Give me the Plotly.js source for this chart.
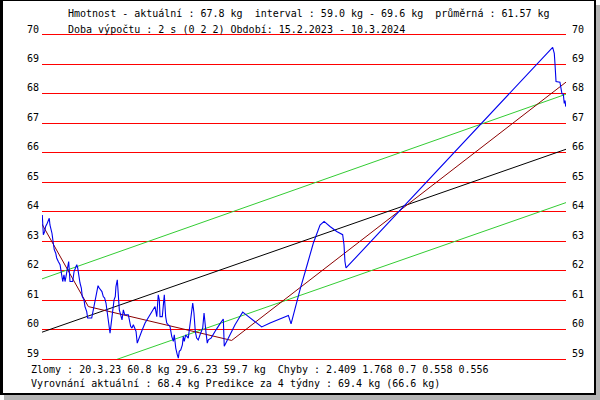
<!DOCTYPE html>
<html>
<head>
<meta charset="utf-8">
<script src="https://cdn.plot.ly/plotly-3.0.1.min.js"></script>
<style>
  html, body { margin: 0; padding: 0; background: #ffffff; width: 600px; height: 400px; overflow: hidden; }
  #frame { position: absolute; left: 0; top: 0; width: 596px; height: 395px; box-sizing: border-box;
           border-left: 3px solid #000; border-top: 1px solid #000; border-right: 2px solid #000; border-bottom: 2px solid #000;
           background: #fff; box-shadow: 4px 5px 0 0 #b4b4b4; }
  #chart { position: absolute; left: 0; top: 0; width: 600px; height: 400px; }
</style>
</head>
<body>
<div id="frame"></div>
<div id="chart"></div>
<script>
const days = [0.2, 1.0, 2.0, 2.7, 3.9, 4.7, 5.4, 5.9, 6.7, 7.4, 8.4, 9.1, 10.2, 10.9, 12.1, 13.4, 14.6, 15.4, 16.3, 17.1,
  17.8, 18.8, 19.8, 20.8, 22.8, 23.8, 24.7, 25.8, 26.5, 27.2, 28.2, 29.2, 29.9, 31.2, 31.9, 33.2, 33.9, 36.9, 37.6, 38.6,
  39.6, 40.6, 41.6, 42.5, 43.6, 44.5, 45.5, 46.5, 47.5, 48.5, 49.5, 50.5, 51.4, 52.2, 53.5, 54.4, 54.9, 55.9, 56.6, 57.4,
  58.4, 59.4, 60.4, 61.4, 64.1, 64.8, 65.8, 66.8, 67.8, 68.8, 69.8, 70.7, 72.0, 74.0, 76.5, 78.9, 81.4, 83.9, 85.2, 86.3,
  87.1, 87.6, 89.3, 90.8, 91.8, 92.6, 93.8, 95.0, 96.3, 97.5, 98.2, 99.3, 100.4, 101.2, 101.9, 103.0, 104.2, 104.9, 105.6, 106.7,
  108.6, 109.9, 111.1, 111.9, 112.8, 113.8, 114.8, 116.0, 117.3, 119.3, 120.3, 121.0, 121.8, 122.7, 123.5, 125.5, 127.2, 129.2, 131.6, 133.4,
  134.6, 135.3, 137.1, 139.6, 143.3, 147.0, 149.0, 150.7, 154.4, 158.9, 163.1, 169.3, 176.7, 182.9, 184.9, 186.6, 191.5, 196.5, 201.4, 206.4,
  209.4, 213.8, 218.8, 223.2, 224.2, 224.9, 225.7, 379.1, 380.3, 380.8, 381.3, 381.6, 384.5, 385.5, 386.0, 387.0, 387.7, 388.3, 388.8];
const weights = [63.89, 63.22, 63.33, 63.50, 63.61, 63.72, 63.78, 63.55, 63.39, 63.27, 62.93, 62.71, 62.59, 62.43, 62.31, 62.20, 61.86, 61.63, 61.86, 61.63,
  61.80, 62.14, 62.31, 61.63, 61.63, 61.97, 62.09, 62.20, 62.09, 61.80, 61.58, 61.41, 61.12, 61.01, 60.78, 60.61, 60.39, 60.39, 60.56, 60.78,
  61.12, 61.29, 61.49, 61.41, 61.35, 61.29, 61.12, 61.07, 60.90, 60.61, 60.33, 59.88, 60.22, 60.56, 61.01, 61.12, 61.46, 61.69, 61.12, 60.67,
  60.50, 60.33, 60.67, 60.50, 60.50, 60.33, 60.11, 60.05, 60.16, 60.05, 59.94, 59.54, 59.71, 59.94, 60.22, 60.39, 60.56, 60.78, 60.44, 61.18,
  61.01, 60.44, 60.44, 61.18, 60.44, 60.22, 60.16, 60.11, 59.77, 59.60, 59.82, 59.37, 59.15, 59.03, 59.26, 59.31, 59.48, 59.77, 59.60, 59.82,
  59.71, 60.16, 60.67, 60.90, 60.56, 59.94, 59.71, 59.65, 59.82, 60.05, 60.56, 60.33, 59.88, 59.54, 59.65, 59.71, 59.82, 59.99, 60.16, 60.27,
  60.36, 59.43, 59.60, 59.82, 60.16, 60.44, 60.59, 60.53, 60.39, 60.22, 60.09, 60.22, 60.36, 60.48, 60.19, 60.50, 61.35, 62.14, 62.93, 63.55,
  63.67, 63.50, 63.33, 63.22, 62.88, 62.31, 62.09, 69.58, 69.38, 69.04, 68.70, 68.42, 68.40, 68.19, 68.00, 67.99, 67.68, 67.77, 67.57];

// Linear trend and its band
const trendDays = [0, 389];
const trendVals = [59.91, 66.12];
const upperVals = [61.72, 67.99];
const lowerVals = [58.10, 64.31];

// Piecewise smoothing (breaks)
const fitDays = [0, 34.4, 140.8, 389];
const fitVals = [63.58, 60.78, 59.63, 68.4];

const yTicks = [59, 60, 61, 62, 63, 64, 65, 66, 67, 68, 69, 70];
const yTickText = ['59', '60', '61', '62', '63', '64', '65', '66', '67', '68', '69', '70'];

const headLine1 = 'Hmotnost - aktuální : 67.8 kg  interval : 59.0 kg - 69.6 kg  průměrná : 61.57 kg';
const headLine2 = 'Doba výpočtu : 2 s (0 2 2) Období: 15.2.2023 - 10.3.2024';
const footLine1 = 'Zlomy : 20.3.23 60.8 kg 29.6.23 59.7 kg  Chyby : 2.409 1.768 0.7 0.558 0.556';
const footLine2 = 'Vyrovnání aktuální : 68.4 kg Predikce za 4 týdny : 69.4 kg (66.6 kg)';

const FONT = 'DejaVu Sans Mono, monospace';

const traces = [
  { x: trendDays, y: upperVals, mode: 'lines', line: { color: '#33cc33', width: 1 } },
  { x: trendDays, y: lowerVals, mode: 'lines', line: { color: '#33cc33', width: 1 } },
  { x: trendDays, y: trendVals, mode: 'lines', line: { color: '#000000', width: 1 } },
  { x: fitDays, y: fitVals, mode: 'lines', line: { color: '#8b0000', width: 1 } },
  { x: days, y: weights, mode: 'lines', line: { color: '#0000ee', width: 1.1 } },
  { x: [], y: [], yaxis: 'y2', mode: 'lines' }
];

const yAxisCommon = {
  range: [59, 70], tickmode: 'array', tickvals: yTicks, ticktext: yTickText,
  ticks: '', showline: false, zeroline: false, fixedrange: true,
  tickfont: { family: FONT, size: 10, color: '#000' },
  ticklabelshift: -6
};

function ann(text, x, xshift, y, yshift) {
  return { text: text, xref: 'paper', yref: 'paper', x: x, y: y, xanchor: 'left', yanchor: 'middle',
           xshift: xshift, yshift: yshift, showarrow: false, borderpad: 0,
           font: { family: FONT, size: 10, color: '#000' } };
}

const layout = {
  width: 600, height: 400,
  margin: { l: 42, r: 34, t: 35, b: 41, pad: 0 },
  paper_bgcolor: 'rgba(0,0,0,0)', plot_bgcolor: 'rgba(0,0,0,0)',
  showlegend: false,
  // x axis lines (bottom + mirrored top) act as the red 59 and 70 grid lines at the plot edges
  xaxis: { range: [0, 389], showgrid: false, zeroline: false, showticklabels: false, ticks: '',
           showline: true, mirror: true, linecolor: '#ff0000', linewidth: 1, fixedrange: true },
  yaxis: Object.assign({}, yAxisCommon, { side: 'left', showgrid: true, gridcolor: '#ff0000', gridwidth: 1, ticklabelstandoff: 2 }),
  yaxis2: Object.assign({}, yAxisCommon, { side: 'right', overlaying: 'y', matches: 'y', showgrid: false, ticklabelstandoff: 5 }),
  annotations: [
    ann(headLine1, 0, 25, 1, 22),
    ann(headLine2, 0, 25, 1, 6),
    ann(footLine1, 0, -12, 0, -10),
    ann(footLine2, 0, -12, 0, -24)
  ]
};

Plotly.newPlot('chart', traces, layout, { displayModeBar: false, staticPlot: true });
</script>
</body>
</html>
